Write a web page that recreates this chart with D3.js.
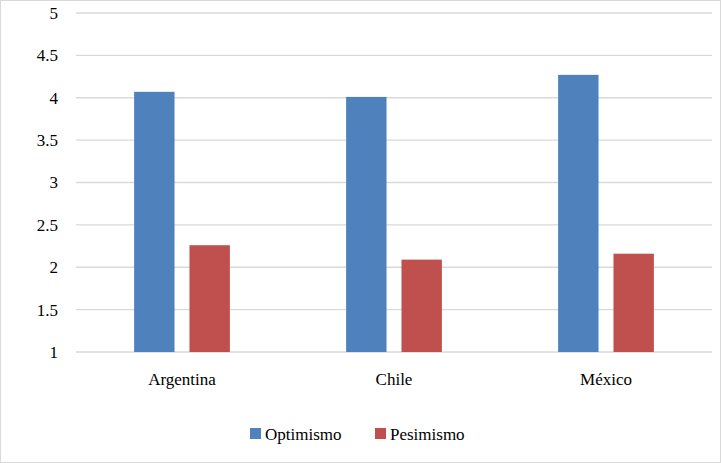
<!DOCTYPE html>
<html><head><meta charset="utf-8">
<script src="https://cdn.jsdelivr.net/npm/d3@7"></script>
<style>body{margin:0;background:#fff;} svg{font-family:"Liberation Serif","Times New Roman",serif;}</style>
</head><body>
<svg id="c" width="721" height="463"></svg>
<script>
const categories = ["Argentina", "Chile", "México"];
const seriesNames = ["Optimismo", "Pesimismo"];
const optimismo = [4.07, 4.01, 4.27];
const pesimismo = [2.26, 2.09, 2.16];
const yTicks = [1, 1.5, 2, 2.5, 3, 3.5, 4, 4.5, 5];
const colors = ["#4f81bd", "#c0504d"];

const svg = d3.select("#c");
const margin = { top: 13, right: 9, bottom: 111, left: 76 };
const w = 721 - margin.left - margin.right;
const h = 463 - margin.top - margin.bottom;

svg.append("rect").attr("x", 0.5).attr("y", 0.5).attr("width", 720).attr("height", 462)
  .attr("fill", "#fff").attr("stroke", "#d9d9d9");

const g = svg.append("g").attr("transform", `translate(${margin.left},${margin.top})`);

const x = d3.scaleBand().domain(categories).range([0, w]);
const xs = d3.scaleBand().domain(seriesNames).range([0, x.bandwidth()]).paddingInner(0.27).paddingOuter(1.05);
const y = d3.scaleLinear().domain([1, 5]).range([h, 0]);

//gridlines
g.selectAll(".grid").data(yTicks).enter().append("line")
  .attr("x1", 0).attr("x2", w).attr("y1", d => y(d)).attr("y2", d => y(d))
  .attr("stroke", "#d9d9d9").attr("stroke-width", 1.3);

//y labels
g.selectAll(".yl").data(yTicks).enter().append("text")
  .attr("x", -18).attr("y", d => y(d)).attr("dy", "0.35em")
  .attr("text-anchor", "end").attr("font-size", 17).text(d => d);

//bars
const series = [optimismo, pesimismo];
series.forEach((vals, si) => {
  g.selectAll(".b" + si).data(vals).enter().append("rect")
    .attr("x", (d, i) => x(categories[i]) + xs(seriesNames[si]))
    .attr("width", xs.bandwidth())
    .attr("y", d => y(d)).attr("height", d => h - y(d))
    .attr("fill", colors[si]);
});

//x labels
g.selectAll(".xl").data(categories).enter().append("text")
  .attr("x", d => x(d) + x.bandwidth() / 2).attr("y", h + 33)
  .attr("text-anchor", "middle").attr("font-size", 17).text(d => d);

//legend
const leg = svg.append("g").attr("transform", "translate(250,434)");
const lx = [0, 125];
seriesNames.forEach((s, i) => {
  leg.append("rect").attr("x", lx[i]).attr("y", -6).attr("width", 11).attr("height", 11).attr("fill", colors[i]);
  leg.append("text").attr("x", lx[i] + 15).attr("y", 0).attr("dy", "0.35em")
    .attr("font-size", 17).text(s);
});
</script>
</body></html>
